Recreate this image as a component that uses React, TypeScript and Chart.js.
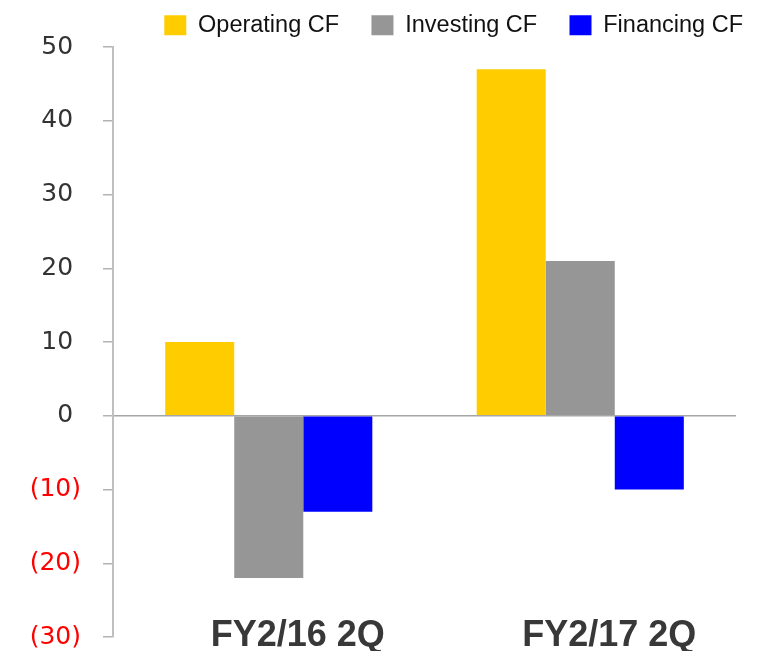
import React, { useEffect, useRef } from 'react';
import { Chart, registerables } from 'chart.js';

Chart.register(...registerables);

const categories = ['FY2/16 2Q', 'FY2/17 2Q'];
const seriesNames = ['Operating CF', 'Investing CF', 'Financing CF'];
const operatingCF = [10, 47];
const investingCF = [-22, 21];
const financingCF = [-13, -10];
const seriesColors = ['#ffcc00', '#969696', '#0000ff'];
const yMin = -30;
const yMax = 50;
const yStep = 10;

export default function App() {
  const canvasRef = useRef<HTMLCanvasElement | null>(null);

  useEffect(() => {
    const canvas = canvasRef.current;
    if (!canvas) return;
    const seriesValues = [operatingCF, investingCF, financingCF];
    const chart = new Chart(canvas, {
      type: 'bar',
      data: {
        labels: categories,
        datasets: seriesNames.map((name, i) => ({
          label: name,
          data: seriesValues[i],
          backgroundColor: seriesColors[i],
          borderWidth: 0,
          categoryPercentage: 0.665,
          barPercentage: 1,
        })),
      },
      options: {
        responsive: false,
        animation: false,
        layout: { padding: { top: 0, left: 0, right: 22, bottom: 0 } },
        plugins: {
          tooltip: { enabled: false },
          legend: {
            position: 'top',
            align: 'end',
            labels: {
              boxWidth: 22,
              boxHeight: 20,
              padding: 3,
              color: '#111111',
              font: { family: "'Liberation Sans', Arial, sans-serif", size: 23.5 },
              generateLabels: (ch: any) => {
                const items = Chart.defaults.plugins.legend.labels.generateLabels(ch);
                return items.map((it: any, i: number) =>
                  i < items.length - 1 ? { ...it, text: it.text + '\u2002\u2002\u2005' } : it
                );
              },
            },
          },
        },
        scales: {
          x: {
            grid: { display: false, drawTicks: false },
            border: { display: false },
            ticks: {
              padding: -19,
              labelOffset: 29,
              maxRotation: 0,
              autoSkip: false,
              color: '#383838',
              font: { family: "'Liberation Sans', Arial, sans-serif", size: 36, weight: 'bold', lineHeight: 1 },
            },
            afterFit: (s: any) => {
              s.height = 14;
              s.paddingRight = 32;
              s.paddingLeft = 0;
              s._computeLabelArea = () => undefined;
            },
          },
          y: {
            min: yMin,
            max: yMax,
            ticks: {
              stepSize: yStep,
              padding: 22,
              font: { family: "'DejaVu Sans', Verdana, sans-serif", size: 25 },
              color: (ctx: any) => (ctx.tick && ctx.tick.value < 0 ? '#ff0000' : '#333333'),
              callback: (v: any) => (Number(v) < 0 ? `(${Math.abs(Number(v))})` : `${v} `),
            },
            grid: {
              drawOnChartArea: true,
              color: (ctx: any) => (ctx.tick && ctx.tick.value === 0 ? '#a6a6a6' : 'rgba(0,0,0,0)'),
              tickColor: '#b3b3b3',
              tickLength: 10,
              lineWidth: 1.5,
            },
            border: { display: true, color: '#bfbfbf', width: 2 },
            afterFit: (s: any) => {
              s.width = 113;
              s.paddingTop = 47;
              s.paddingBottom = 0;
            },
          },
        },
      },
    });
    return () => chart.destroy();
  }, []);

  return (
    <div style={{ position: 'fixed', left: 0, top: 0, width: 768, height: 651, background: '#ffffff' }}>
      <canvas ref={canvasRef} width={768} height={651} style={{ display: 'block' }} />
    </div>
  );
}
